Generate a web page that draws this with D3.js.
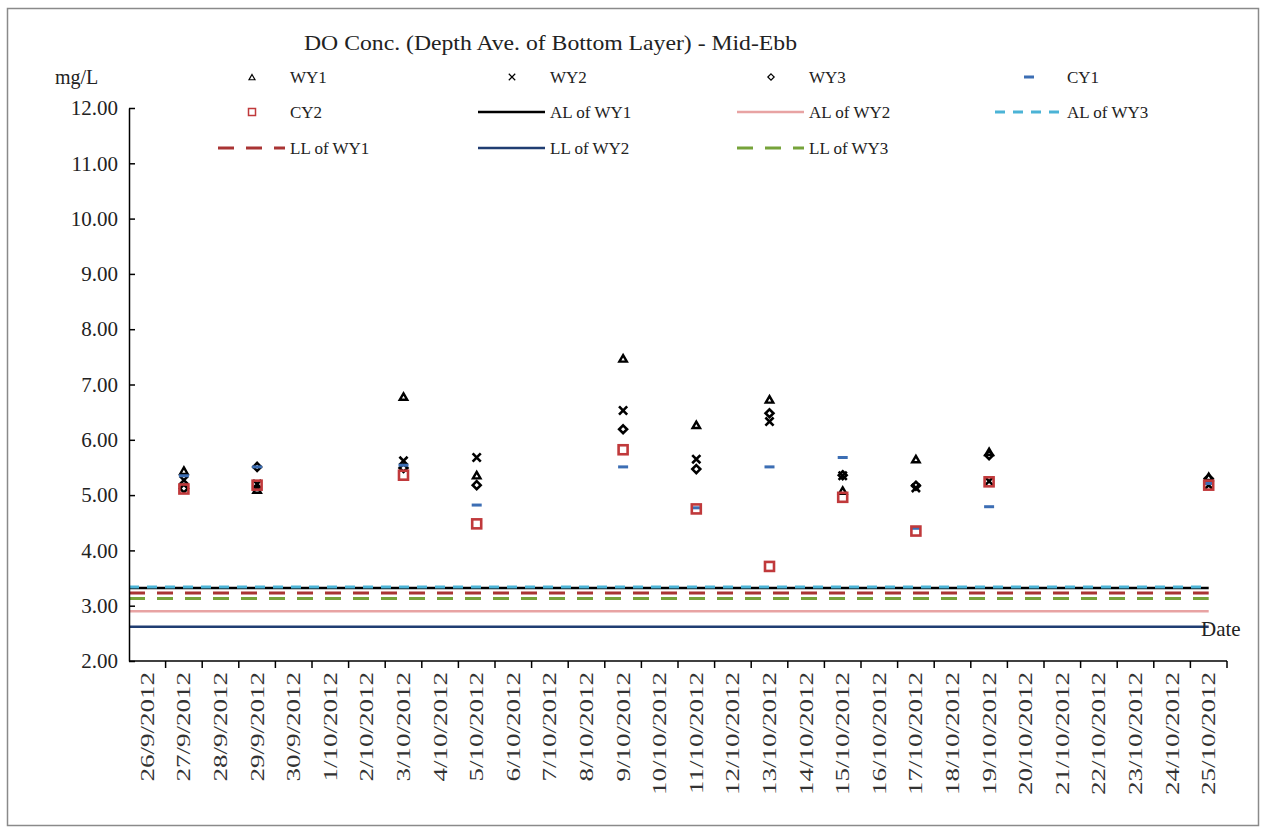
<!DOCTYPE html>
<html><head><meta charset="utf-8">
<script src="https://cdn.jsdelivr.net/npm/d3@7"></script>
<style>
body{margin:0;background:#fff;}
text{font-family:"Liberation Serif","Times New Roman",serif;fill:#222;}
</style></head>
<body><svg id="c" width="1266" height="833"></svg>
<script>
// ---- data ----
const categories = ["26/9/2012","27/9/2012","28/9/2012","29/9/2012","30/9/2012","1/10/2012","2/10/2012","3/10/2012","4/10/2012","5/10/2012","6/10/2012","7/10/2012","8/10/2012","9/10/2012","10/10/2012","11/10/2012","12/10/2012","13/10/2012","14/10/2012","15/10/2012","16/10/2012","17/10/2012","18/10/2012","19/10/2012","20/10/2012","21/10/2012","22/10/2012","23/10/2012","24/10/2012","25/10/2012"];
const sampleDates = ["27/9/2012","29/9/2012","3/10/2012","5/10/2012","9/10/2012","11/10/2012","13/10/2012","15/10/2012","17/10/2012","19/10/2012","25/10/2012"];
const WY1 = [5.44, 5.10, 6.78, 5.36, 7.47, 6.27, 6.73, 5.08, 5.65, 5.78, 5.33];
const WY2 = [5.27, 5.20, 5.62, 5.68, 6.53, 5.65, 6.33, 5.35, 5.13, 5.25, 5.18];
const WY3 = [5.12, 5.51, 5.49, 5.18, 6.19, 5.47, 6.48, 5.36, 5.17, 5.72, 5.30];
const CY1 = [5.35, 5.51, 5.54, 4.82, 5.51, 4.77, 5.51, 5.68, 4.40, 4.79, 5.21];
const CY2 = [5.11, 5.18, 5.36, 4.48, 5.82, 4.75, 3.71, 4.96, 4.35, 5.24, 5.18];
const limitNames = ["AL of WY1","AL of WY2","AL of WY3","LL of WY1","LL of WY2","LL of WY3"];
const limitValues = [3.32, 2.90, 3.34, 3.23, 2.62, 3.13];
const yTicks = [2,3,4,5,6,7,8,9,10,11,12];
const title = "DO Conc. (Depth Ave. of Bottom Layer) - Mid-Ebb";

// ---- styles ----
const limitStyle = {
  "AL of WY1":{color:"#000000",dash:null,w:2.5},
  "AL of WY2":{color:"#e8a3a3",dash:null,w:2.5},
  "AL of WY3":{color:"#4bb3d6",dash:"10,8",w:3},
  "LL of WY1":{color:"#a93434",dash:"16,12",w:3},
  "LL of WY2":{color:"#203d72",dash:null,w:2.5},
  "LL of WY3":{color:"#76a33a",dash:"16,12",w:3}
};
const pointSeries = [
  {name:"WY1",vals:WY1,type:"tri",color:"#000"},
  {name:"WY2",vals:WY2,type:"x",color:"#000"},
  {name:"WY3",vals:WY3,type:"dia",color:"#000"},
  {name:"CY1",vals:CY1,type:"dash",color:"#3c6eb4"},
  {name:"CY2",vals:CY2,type:"sq",color:"#c0393b"}
];

const svg = d3.select("#c");
svg.append("rect").attr("x",7.5).attr("y",8.5).attr("width",1251).attr("height",817)
  .attr("fill","#fff").attr("stroke","#8a8a8a").attr("stroke-width",1.5);

const x = d3.scaleBand().domain(categories).range([129,1227]).padding(0);
const y = d3.scaleLinear().domain([2,12]).range([661,108]);

// title
svg.append("text").attr("x",304).attr("y",50)
  .attr("textLength",493).attr("lengthAdjust","spacingAndGlyphs")
  .style("font-size","22px").text(title);
svg.append("text").attr("x",55).attr("y",84).style("font-size","20px").text("mg/L");

// limit lines
const lastC = x(categories[categories.length-1]) + x.bandwidth()/2;
const drawOrder = ["AL of WY2","LL of WY2","LL of WY3","LL of WY1","AL of WY1","AL of WY3"];
drawOrder.forEach(n=>{
  const v = limitValues[limitNames.indexOf(n)];
  const s = limitStyle[n];
  svg.append("line").attr("x1",129).attr("x2",lastC).attr("y1",y(v)).attr("y2",y(v))
    .attr("stroke",s.color).attr("stroke-width",s.w).attr("stroke-dasharray",s.dash);
});

// axes
const ya = svg.append("g").attr("transform","translate(129,0)")
  .call(d3.axisLeft(y).tickValues(yTicks).tickFormat(d3.format(".2f")).tickSize(-6).tickSizeOuter(0).tickPadding(11));
ya.select(".domain").attr("stroke","#000").attr("stroke-width",1.5);
ya.selectAll(".tick line").attr("stroke","#000").attr("stroke-width",1.5);
ya.selectAll("text").style("font-size","21px").style("font-family","Liberation Serif").style("fill","#222");

const xa = svg.append("g").attr("transform","translate(0,661)");
xa.append("line").attr("x1",129).attr("x2",1227).attr("stroke","#000").attr("stroke-width",1.5);
categories.forEach(c=>{
  const bx = x(c)+x.bandwidth();
  xa.append("line").attr("x1",bx).attr("x2",bx).attr("y1",0).attr("y2",7).attr("stroke","#000").attr("stroke-width",1.5);
  xa.append("text").attr("transform",`translate(${x(c)+x.bandwidth()/2+6.5},11) rotate(-90) scale(1.42,1)`)
    .attr("text-anchor","end").style("font-size","19px").style("fill","#333").text(c);
});
svg.append("text").attr("x",1201).attr("y",636).style("font-size","21px").text("Date");

// markers
function drawMarker(g, type, cx, cy, color, big){
  const k = big ? 1 : 0.8;
  if(type==="tri"){
    g.append("path").attr("d",d3.symbol().type(d3.symbolTriangle2).size(40*k*k)())
      .attr("transform",`translate(${cx},${cy+1})`).attr("fill","none").attr("stroke",color).attr("stroke-width",big?2.4:1.2);
  } else if(type==="x"){
    g.append("path").attr("d",d3.symbol().type(d3.symbolX).size(45*k*k)())
      .attr("transform",`translate(${cx},${cy})`).attr("fill","none").attr("stroke",color).attr("stroke-width",big?2.6:1.2);
  } else if(type==="dia"){
    g.append("path").attr("d",d3.symbol().type(d3.symbolDiamond2).size(40*k*k)())
      .attr("transform",`translate(${cx},${cy})`).attr("fill","none").attr("stroke",color).attr("stroke-width",big?2.6:1.2);
  } else if(type==="dash"){
    g.append("rect").attr("x",cx-5).attr("y",cy-1.5).attr("width",10).attr("height",3).attr("fill",color);
  } else if(type==="sq"){
    const s = big?9:7;
    g.append("rect").attr("x",cx-s/2).attr("y",cy-s/2).attr("width",s).attr("height",s)
      .attr("fill","none").attr("stroke",color).attr("stroke-width",big?2.6:1.5);
  }
}
const pg = svg.append("g");
pointSeries.forEach(s=>{
  s.vals.forEach((v,i)=>{
    const cx = x(sampleDates[i]) + x.bandwidth()/2;
    drawMarker(pg, s.type, cx, y(v), s.color, true);
  });
});

// legend
const legendItems = ["WY1","WY2","WY3","CY1","CY2"].concat(limitNames);
const colX = [218,478,737,995];
const rowY = [77,112,148];
const lg = svg.append("g");
legendItems.forEach((n,i)=>{
  const r = Math.floor(i/4), c = i%4;
  const x0 = colX[c], yy = rowY[r];
  const ps = pointSeries.find(p=>p.name===n);
  if(ps){
    drawMarker(lg, ps.type, x0+34, yy, ps.color, false);
  } else {
    const s = limitStyle[n];
    lg.append("line").attr("x1",x0).attr("x2",x0+67).attr("y1",yy).attr("y2",yy)
      .attr("stroke",s.color).attr("stroke-width",s.w).attr("stroke-dasharray",s.dash);
  }
  lg.append("text").attr("x",x0+72).attr("y",yy+6).style("font-size","17px").text(n);
});
</script></body></html>
